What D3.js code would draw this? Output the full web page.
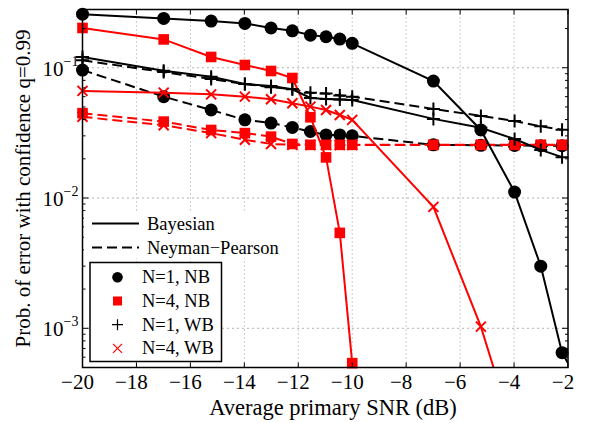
<!DOCTYPE html>
<html>
<head>
<meta charset="utf-8">
<script src="https://cdn.jsdelivr.net/npm/d3@7"></script>
<style>
  body { margin: 0; background: #fff; }
  svg text { font-family: "Liberation Serif", "DejaVu Serif", "Times New Roman", Times, serif; }
</style>
</head>
<body>
<div id="chart"></div>
<script>
// average primary SNR in dB (SNR = 0.01..0.1, 0.2..0.7 linear)
const snrDb = [-20, -16.99, -15.23, -13.98, -13.01, -12.22, -11.55, -10.97, -10.46, -10,
  -6.99, -5.23, -3.98, -3.01, -2.22, -1.55];

// Bayesian
const n1nbBayes = [0.258, 0.239, 0.228, 0.219, 0.202, 0.192, 0.178, 0.173, 0.166, 0.154,
  0.079, 0.0333, 0.0111, 0.003, 0.00065, 0.00037];
const n4nbBayes = [0.202, 0.165, 0.121, 0.105, 0.0944, 0.0834, 0.0417, 0.0205, 0.0054, 0.00054];
const n1wbBayes = [0.121, 0.0948, 0.0853, 0.075, 0.0724, 0.0684, 0.0586, 0.0576, 0.057, 0.0566,
  0.0405, 0.0346, 0.0284, 0.0234, 0.0206];
const n4wbBayes = [0.0664, 0.0644, 0.0625, 0.06, 0.0573, 0.0534, 0.0503, 0.0474, 0.0434, 0.0398,
  0.00855, 0.00103, 0.00015];

// Neyman-Pearson
const n1nbNP = [0.096, 0.06, 0.0474, 0.0398, 0.0376, 0.0348, 0.0324, 0.0305, 0.0305, 0.03,
  0.0256, 0.0254, 0.0253, 0.0252, 0.0252];
const n4nbNP = [0.0448, 0.0386, 0.0333, 0.0315, 0.0296, 0.026, 0.0256, 0.0256, 0.0256, 0.0256,
  0.0256, 0.0256, 0.0256, 0.0256, 0.0256];
const n1wbNP = [0.114, 0.0927, 0.082, 0.075, 0.071, 0.0686, 0.0644, 0.0635, 0.0613, 0.06,
  0.0483, 0.0427, 0.039, 0.0355, 0.0334];
const n4wbNP = [0.042, 0.0362, 0.0315, 0.028, 0.026, 0.0256, 0.0255, 0.0255, 0.0255, 0.0255,
  0.0255, 0.0255, 0.0255, 0.0255, 0.0255];

const xTicks = [-20, -18, -16, -14, -12, -10, -8, -6, -4, -2];
const yDecades = [1e-3, 1e-2, 1e-1];
const yTickLabels = ["\u22123", "\u22122", "\u22121"];
const styleNames = ["Bayesian", "Neyman\u2212Pearson"];
const markerNames = ["N=1, NB", "N=4, NB", "N=1, WB", "N=4, WB"];

const serif = '"Liberation Serif", "DejaVu Serif", serif';

const margin = { top: 9.5, right: 21, bottom: 55.5, left: 82.5 },
  width = 589 - margin.left - margin.right,
  height = 423 - margin.top - margin.bottom;

const svg = d3
  .select("#chart")
  .append("svg")
  .attr("width", 589)
  .attr("height", 423)
  .attr("font-family", serif)
  .style("font-family", serif);

const g = svg.append("g").attr("transform", `translate(${margin.left}, ${margin.top})`);

const x = d3.scaleLinear().domain([-20, -2]).range([0, width]);
const y = d3.scaleLog().domain([5e-4, 0.28]).range([height, 0]);

// grid
g.append("g")
  .selectAll("line")
  .data(xTicks)
  .join("line")
  .attr("x1", (d) => x(d))
  .attr("x2", (d) => x(d))
  .attr("y1", 0)
  .attr("y2", height)
  .attr("stroke", "#999")
  .attr("stroke-width", 1)
  .attr("stroke-dasharray", "1,3");

g.append("g")
  .selectAll("line")
  .data(yDecades)
  .join("line")
  .attr("x1", 0)
  .attr("x2", width)
  .attr("y1", (d) => y(d))
  .attr("y2", (d) => y(d))
  .attr("stroke", "#666")
  .attr("stroke-width", 1)
  .attr("stroke-dasharray", "1,4");

g.append("clipPath")
  .attr("id", "clip")
  .append("rect")
  .attr("width", width)
  .attr("height", height);

const series = [
  { vals: n1nbNP, color: "#000", marker: "circle", dash: "10,5" },
  { vals: n1wbNP, color: "#000", marker: "plus", dash: "10,5" },
  { vals: n4wbNP, color: "#f00", marker: "cross", dash: "10,5" },
  { vals: n4nbNP, color: "#f00", marker: "square", dash: "10,5" },
  { vals: n1nbBayes, color: "#000", marker: "circle", dash: null },
  { vals: n4nbBayes, color: "#f00", marker: "square", dash: null },
  { vals: n1wbBayes, color: "#000", marker: "plus", dash: null },
  { vals: n4wbBayes, color: "#f00", marker: "cross", dash: null },
];

const line = d3
  .line()
  .x((d) => x(d[0]))
  .y((d) => y(d[1]));

const drawMarker = (sel, type, color, s) => {
  if (type === "circle") {
    sel.append("circle").attr("r", s).attr("fill", color);
  } else if (type === "square") {
    sel.append("rect").attr("x", -s).attr("y", -s).attr("width", 2 * s).attr("height", 2 * s).attr("fill", color);
  } else if (type === "plus") {
    sel.append("path").attr("d", `M${-s},0H${s}M0,${-s}V${s}`).attr("stroke", color).attr("stroke-width", 2);
  } else {
    sel.append("path").attr("d", `M${-s},${-s}L${s},${s}M${-s},${s}L${s},${-s}`).attr("stroke", color).attr("stroke-width", 2);
  }
};

const sizes = { circle: 6.5, square: 5.3, plus: 6.5, cross: 5 };

series.forEach((s) => {
  const pts = s.vals.map((v, i) => [snrDb[i], v]);
  g.append("path")
    .datum(pts)
    .attr("clip-path", "url(#clip)")
    .attr("fill", "none")
    .attr("stroke", s.color)
    .attr("stroke-width", 2)
    .attr("stroke-dasharray", s.dash)
    .attr("d", line);
  const inside = pts.filter((d) => d[0] <= -2 && d[1] >= 5e-4);
  g.append("g")
    .selectAll("g")
    .data(inside)
    .join("g")
    .attr("transform", (d) => `translate(${x(d[0])},${y(d[1])})`)
    .each(function () {
      drawMarker(d3.select(this), s.marker, s.color, sizes[s.marker]);
    });
});

// axes box and ticks
g.append("rect")
  .attr("width", width)
  .attr("height", height)
  .attr("fill", "none")
  .attr("stroke", "#000")
  .attr("stroke-width", 1.5);

const minors = [];
[-4, -3, -2, -1].forEach((e) => {
  for (let m = 2; m <= 9; m++) {
    const v = m * Math.pow(10, e);
    if (v >= 5e-4 && v <= 0.28) minors.push(v);
  }
});

const tickG = g.append("g").attr("stroke", "#000").attr("stroke-width", 1);
xTicks.forEach((t) => {
  tickG.append("line").attr("x1", x(t)).attr("x2", x(t)).attr("y1", height).attr("y2", height - 5);
  tickG.append("line").attr("x1", x(t)).attr("x2", x(t)).attr("y1", 0).attr("y2", 5);
});
yDecades.forEach((t) => {
  tickG.append("line").attr("x1", 0).attr("x2", 6).attr("y1", y(t)).attr("y2", y(t));
  tickG.append("line").attr("x1", width).attr("x2", width - 6).attr("y1", y(t)).attr("y2", y(t));
});
minors.forEach((t) => {
  tickG.append("line").attr("x1", 0).attr("x2", 3).attr("y1", y(t)).attr("y2", y(t));
  tickG.append("line").attr("x1", width).attr("x2", width - 3).attr("y1", y(t)).attr("y2", y(t));
});

g.append("g")
  .selectAll("text")
  .data(xTicks)
  .join("text")
  .attr("x", (d) => x(d) - 5)
  .attr("y", height + 21)
  .attr("text-anchor", "middle")
  .attr("font-size", 21)
  .text((d) => (d < 0 ? "\u2212" + Math.abs(d) : d));

const yLab = g.append("g")
  .selectAll("text")
  .data(yDecades)
  .join("text")
  .attr("x", -4)
  .attr("y", (d) => y(d) + 8)
  .attr("text-anchor", "end")
  .attr("font-size", 21);
yLab.append("tspan").text("10");
yLab.append("tspan")
  .attr("dy", -10)
  .attr("font-size", 14)
  .text((d, i) => yTickLabels[i]);

svg.append("text")
  .attr("x", 333)
  .attr("y", 415)
  .attr("text-anchor", "middle")
  .attr("font-size", 22.5)
  .text("Average primary SNR (dB)");

svg.append("text")
  .attr("transform", `translate(30, ${margin.top + height / 2}) rotate(-90)`)
  .attr("text-anchor", "middle")
  .attr("font-size", 21)
  .text("Prob. of error with confidence q=0.99");

// legend: line styles
const leg1 = svg.append("g");
leg1.append("rect").attr("x", 84).attr("y", 211).attr("width", 200).attr("height", 47).attr("fill", "#fff");
styleNames.forEach((name, i) => {
  const yy = 223.5 + i * 24;
  leg1.append("line")
    .attr("x1", 92).attr("x2", 139).attr("y1", yy).attr("y2", yy)
    .attr("stroke", "#000").attr("stroke-width", 2)
    .attr("stroke-dasharray", i === 1 ? "10,5" : null);
  leg1.append("text").attr("x", 147).attr("y", yy + 6).attr("font-size", 18.5).text(name);
});

// legend: markers
const leg2 = svg.append("g");
leg2.append("rect")
  .attr("x", 90).attr("y", 262.5).attr("width", 131.5).attr("height", 99)
  .attr("fill", "#fff").attr("stroke", "#000").attr("stroke-width", 1.5);
const legMarkers = [
  { marker: "circle", color: "#000" },
  { marker: "square", color: "#f00" },
  { marker: "plus", color: "#000" },
  { marker: "cross", color: "#f00" },
];
markerNames.forEach((name, i) => {
  const yy = 277.3 + i * 23.7;
  const mg = leg2.append("g").attr("transform", `translate(117.5, ${yy})`);
  const m = legMarkers[i];
  drawMarker(mg, m.marker, m.color, { circle: 5.3, square: 4.5, plus: 5.5, cross: 4.5 }[m.marker]);
  mg.selectAll("path").attr("stroke-width", 1.2);
  leg2.append("text").attr("x", 142).attr("y", yy + 6).attr("font-size", 18.5).text(name);
});
</script>
</body>
</html>
